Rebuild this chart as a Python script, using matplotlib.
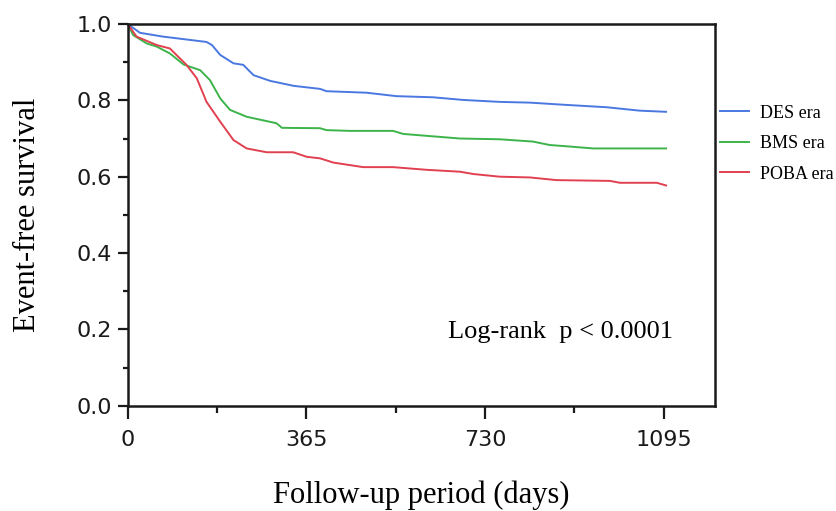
import matplotlib
matplotlib.use("Agg")
import matplotlib.pyplot as plt
from matplotlib.ticker import MultipleLocator

# Kaplan-Meier curves (days, survival)
des_days = [0, 25, 72, 161, 172, 189, 216, 236, 257, 291, 339, 393, 406, 488, 549, 624, 686, 760, 822, 897, 978, 1046, 1100]
des_surv = [1.0, 0.977, 0.967, 0.953, 0.945, 0.919, 0.897, 0.893, 0.866, 0.851, 0.838, 0.830, 0.824, 0.820, 0.811, 0.808, 0.801, 0.796, 0.794, 0.788, 0.782, 0.773, 0.770]

bms_days = [0, 11, 39, 59, 86, 114, 148, 168, 189, 209, 243, 304, 315, 393, 406, 454, 542, 563, 611, 679, 760, 828, 862, 903, 951, 1100]
bms_surv = [1.0, 0.971, 0.949, 0.941, 0.923, 0.894, 0.879, 0.853, 0.805, 0.775, 0.757, 0.740, 0.728, 0.727, 0.722, 0.720, 0.720, 0.712, 0.707, 0.700, 0.698, 0.692, 0.683, 0.679, 0.674, 0.674]

poba_days = [0, 18, 59, 86, 120, 141, 161, 189, 216, 243, 284, 338, 366, 393, 420, 481, 542, 611, 679, 706, 760, 822, 876, 985, 1006, 1081, 1100]
poba_surv = [1.0, 0.967, 0.945, 0.936, 0.893, 0.858, 0.796, 0.744, 0.696, 0.674, 0.664, 0.664, 0.652, 0.648, 0.637, 0.625, 0.625, 0.618, 0.613, 0.607, 0.600, 0.598, 0.591, 0.589, 0.584, 0.584, 0.577]

x_ticks = [0, 365, 730, 1095]
y_ticks = [0.0, 0.2, 0.4, 0.6, 0.8, 1.0]

serif = ["Liberation Serif", "DejaVu Serif"]

fig = plt.figure(figsize=(8.36, 5.11), dpi=100)
ax = fig.add_axes([0.1528, 0.2061, 0.7025, 0.7469])

ax.plot(des_days, des_surv, color="#4a78e0", lw=1.4, label="DES era")
ax.plot(bms_days, bms_surv, color="#3cb44a", lw=1.4, label="BMS era")
ax.plot(poba_days, poba_surv, color="#e0404f", lw=1.4, label="POBA era")

ax.set_xlim(0, 1200)
ax.set_ylim(0, 1.0)
ax.set_xticks(x_ticks)
ax.set_yticks(y_ticks)
ax.set_yticklabels([f"{v:.1f}" for v in y_ticks])
ax.xaxis.set_minor_locator(MultipleLocator(182.5))
ax.yaxis.set_minor_locator(MultipleLocator(0.1))

for s in ax.spines.values():
    s.set_linewidth(1.8)
    s.set_color("#1a1a1a")
ax.tick_params(axis="y", which="major", length=7.5, width=1.6, pad=4, labelsize=16, colors="#1a1a1a")
ax.tick_params(axis="y", which="minor", length=3.8, width=1.6, colors="#1a1a1a")
ax.tick_params(axis="x", which="major", length=9.5, width=1.6, pad=8, labelsize=16, colors="#1a1a1a")
ax.tick_params(axis="x", which="minor", length=5.2, width=1.6, colors="#1a1a1a")

ax.set_xlabel("Follow-up period (days)", family=serif, fontsize=22, labelpad=22)
ax.set_ylabel("Event-free survival", family=serif, fontsize=22, labelpad=25)

ax.text(0.546, 0.192, "Log-rank  p < 0.0001", transform=ax.transAxes,
        family=serif, fontsize=19, va="center", ha="left")

ax.legend(loc="center left", bbox_to_anchor=(0.861, 0.719), bbox_transform=fig.transFigure,
          frameon=False, prop={"family": serif, "size": 13}, handlelength=1.6,
          handletextpad=0.6, labelspacing=0.75, borderpad=0, borderaxespad=0)

fig.savefig("out.png", dpi=100)
